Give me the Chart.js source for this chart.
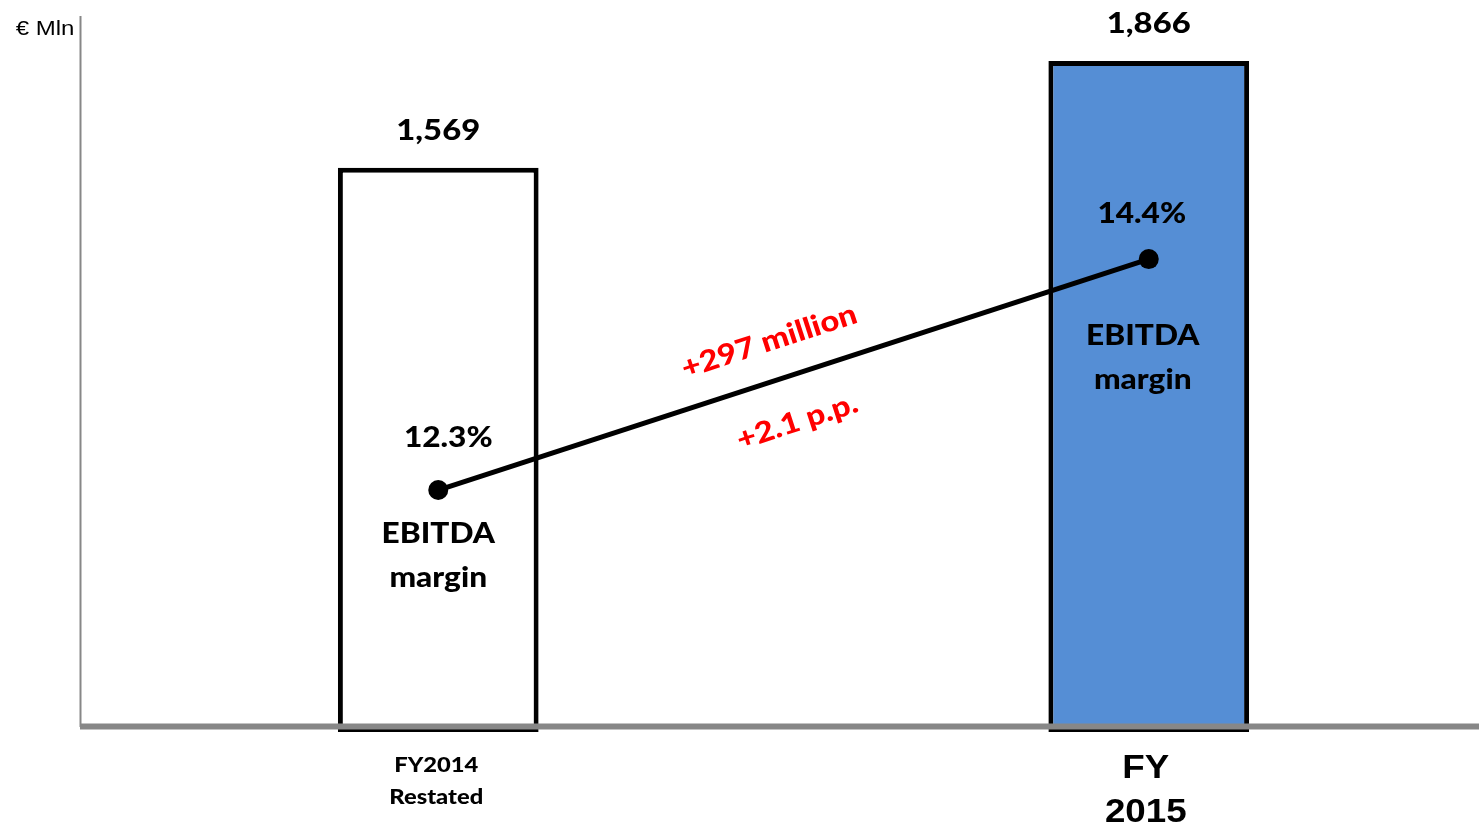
<!DOCTYPE html>
<html>
<head>
<meta charset="utf-8">
<script src="https://cdn.jsdelivr.net/npm/chart.js@4.4.1/dist/chart.umd.min.js"></script>
<style>
  html, body { margin: 0; padding: 0; background: #fff; overflow: hidden; width: 1479px; height: 828px; }
  #wrap { width: 1514px; height: 828px; }
  canvas { display: block; width: 1514px; height: 828px; }
</style>
</head>
<body>
<div id="wrap"><canvas id="c" width="1514" height="828"></canvas></div>
<script>
// EBITDA (€ Mln) and EBITDA margin (%), FY2014 restated vs FY2015
const categories = [['FY2014', 'Restated'], ['FY', '2015']];
const ebitda = [1569, 1866];
const ebitdaLabels = ['1,569', '1,866'];
const margin = [12.3, 14.4];
const marginLabels = ['12.3%', '14.4%'];
const deltaLabels = ['+297 million', '+2.1 p.p.'];
const unitLabel = '€ Mln';
const barFills = ['#FFFFFF', '#558ED5'];

const BOLD = '"Lato", "Open Sans", sans-serif';
const ARIAL = '"Liberation Sans", Arial, sans-serif';
const GREY = '#878787';
const W = '900 ';

// centred text with a slight horizontal widening
function txt(ctx, s, x, y, font, color, angle, sx) {
  ctx.save();
  ctx.translate(x, y);
  if (angle) ctx.rotate(angle);
  ctx.scale(sx || 1.13, 1);
  ctx.font = font;
  ctx.fillStyle = color;
  ctx.textAlign = 'center';
  ctx.textBaseline = 'middle';
  ctx.fillText(s, 0, 0);
  ctx.restore();
}

const axisLines = {
  id: 'axisLines',
  beforeDatasetsDraw(chart) {
    const { ctx, chartArea } = chart;
    ctx.save();
    ctx.strokeStyle = GREY;
    ctx.lineWidth = 2;
    ctx.beginPath();
    ctx.moveTo(80.5, chartArea.top);
    ctx.lineTo(80.5, chartArea.bottom - 5);
    ctx.stroke();
    ctx.restore();
  },
  afterDatasetsDraw(chart) {
    const { ctx, chartArea } = chart;
    ctx.save();
    ctx.strokeStyle = GREY;
    ctx.lineWidth = 6;
    ctx.beginPath();
    ctx.moveTo(80, chartArea.bottom - 5.5);
    ctx.lineTo(chart.width, chartArea.bottom - 5.5);
    ctx.stroke();
    ctx.restore();
  }
};

const annotations = {
  id: 'annotations',
  afterDraw(chart) {
    const { ctx } = chart;
    const bars = chart.getDatasetMeta(1).data;
    const pts = chart.getDatasetMeta(0).data;

    // unit label
    txt(ctx, unitLabel, 45, 29, '20px ' + ARIAL, '#000', 0, 1.2);

    // bar values
    bars.forEach((b, i) => txt(ctx, ebitdaLabels[i], b.x, b.y - 37, W + '29px ' + BOLD, '#000'));

    // margin values and captions
    const pctDx = [10, -7], pctDy = [-52, -45];
    const capDx = [0, -6], capDy = [44, 77];
    pts.forEach((p, i) => {
      txt(ctx, marginLabels[i], p.x + pctDx[i], p.y + pctDy[i], W + '28px ' + BOLD, '#000');
      const cx = bars[i].x + capDx[i];
      txt(ctx, 'EBITDA', cx, p.y + capDy[i], W + '28px ' + BOLD, '#000');
      txt(ctx, 'margin', cx, p.y + capDy[i] + 44, W + '28px ' + BOLD, '#000');
    });

    // change labels along the margin line
    const a = pts[0], b = pts[1];
    const ang = Math.atan2(b.y - a.y, b.x - a.x);
    const mx = (a.x + b.x) / 2, my = (a.y + b.y) / 2;
    ctx.save();
    ctx.translate(mx, my);
    ctx.rotate(ang);
    txt(ctx, deltaLabels[0], -13, -39, W + '29px ' + BOLD, '#FF0000');
    txt(ctx, deltaLabels[1], -11, 46, W + '29px ' + BOLD, '#FF0000');
    ctx.restore();

    // category labels
    const xs = chart.scales.x;
    const base = chart.chartArea.bottom;
    txt(ctx, categories[0][0], xs.getPixelForValue(0) - 2, base + 33, W + '21px ' + BOLD, '#000');
    txt(ctx, categories[0][1], xs.getPixelForValue(0) - 2, base + 65, W + '21px ' + BOLD, '#000');
    txt(ctx, categories[1][0], xs.getPixelForValue(1) - 3, base + 37, 'bold 34px ' + ARIAL, '#000', 0, 1.08);
    txt(ctx, categories[1][1], xs.getPixelForValue(1) - 3, base + 81, 'bold 34px ' + ARIAL, '#000', 0, 1.08);
  }
};

new Chart(document.getElementById('c'), {
  data: {
    labels: categories,
    datasets: [
      {
        type: 'line',
        label: 'EBITDA margin',
        data: margin,
        yAxisID: 'y2',
        borderColor: '#000',
        borderWidth: 5,
        pointRadius: 10,
        pointBackgroundColor: '#000',
        pointBorderWidth: 0,
        tension: 0
      },
      {
        type: 'bar',
        label: 'EBITDA',
        data: ebitda,
        yAxisID: 'y',
        backgroundColor: barFills,
        borderColor: '#000',
        borderWidth: 5,
        borderSkipped: false,
        barPercentage: 0.2825,
        categoryPercentage: 1
      }
    ]
  },
  options: {
    responsive: false,
    animation: false,
    devicePixelRatio: 1,
    layout: { padding: { top: 16, bottom: 96, left: 83, right: 1 } },
    plugins: { legend: { display: false }, tooltip: { enabled: false } },
    scales: {
      x: { display: false },
      y: { display: false, min: 0, max: 1991 },
      y2: { display: false, min: 10.1, max: 16.61 }
    }
  },
  plugins: [axisLines, annotations]
});
</script>
</body>
</html>
